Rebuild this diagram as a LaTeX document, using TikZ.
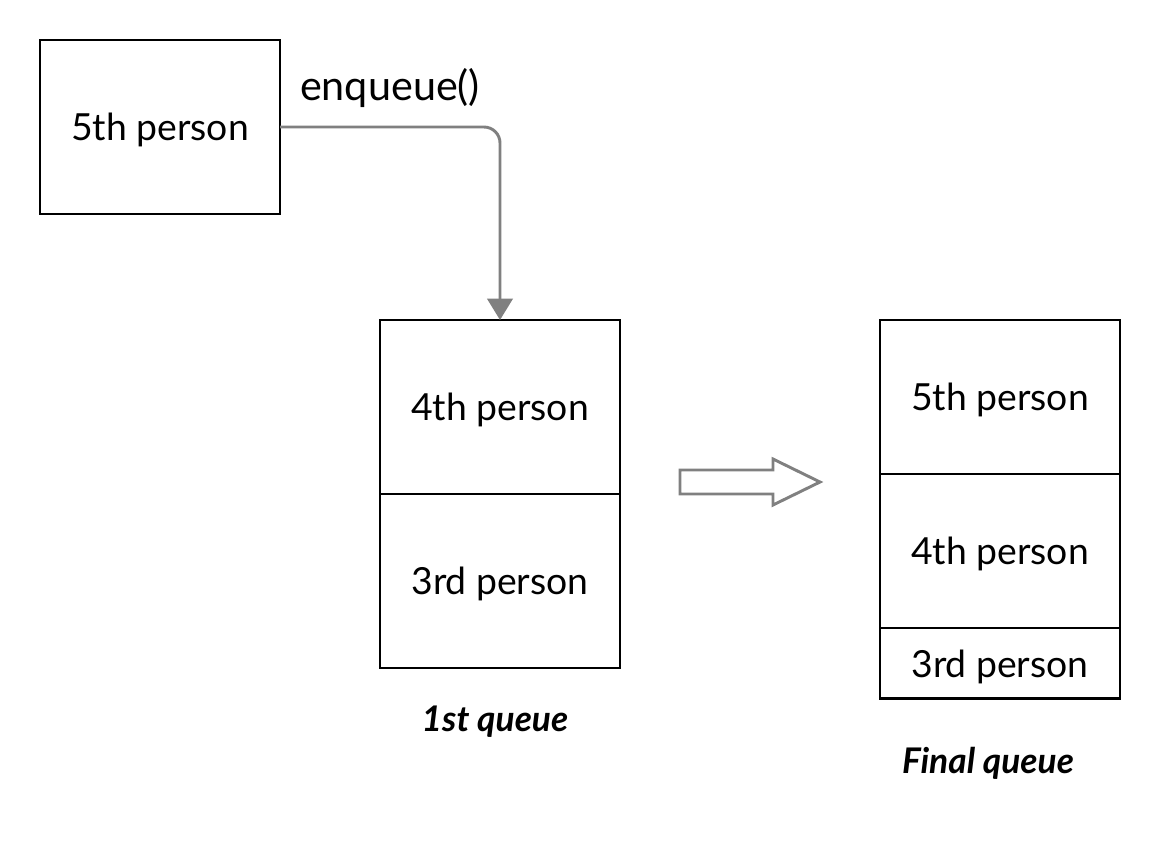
\documentclass[tikz,border=0pt]{standalone}
\usepackage{fontspec}
\setmainfont{Lato}
\usetikzlibrary{arrows.meta}
\usetikzlibrary{positioning}

\begin{document}
\begin{tikzpicture}[
    x=0.75pt, y=-0.75pt,
    node distance=0pt,
    >=Triangle,
    every node/.style={font=\fontsize{28}{32}\selectfont},
    cell/.style={rectangle, draw, line width=2.2pt, outer sep=0pt, minimum width=180pt, minimum height=130.5pt, inner sep=0pt, text depth=0pt},
    smallcell/.style={cell, minimum height=53pt},
    caption/.style={font=\fontsize{26.5}{30}\selectfont\bfseries\itshape}
]
\useasboundingbox (0,0) rectangle (1160,844);

% Nodes
\node[cell] (person5) at (160,127) {5th person};
\node[cell] (first4) at (500,407) {4th person};
\node[cell, below=of first4] (first3) {3rd person};
\node[caption] (firstLabel) at (495,722) {1st queue};
\node[cell, minimum height=115.5pt] (final5) at (1000,397) {5th person};
\node[cell, minimum height=115.5pt, below=of final5] (final4) {4th person};
\node[smallcell, below=of final4] (final3) {3rd person};
\node[caption] (finalLabel) at (988,763) {Final queue};
\node[font=\fontsize{31}{35}\selectfont] (enqueue) at (390,88) {enqueue()};

% Edges
\draw[->, draw=gray, line width=2.2pt, rounded corners=12pt, -{Triangle[length=16pt, width=19pt]}]
    (person5.east) -| (first4.north);

% Hollow arrow
\draw[draw=gray, line width=2.2pt, fill=white]
    (680,470) -- (773,470) -- (773,459) -- (820,482) -- (773,505) -- (773,494) -- (680,494) -- cycle;

\end{tikzpicture}
\end{document}
